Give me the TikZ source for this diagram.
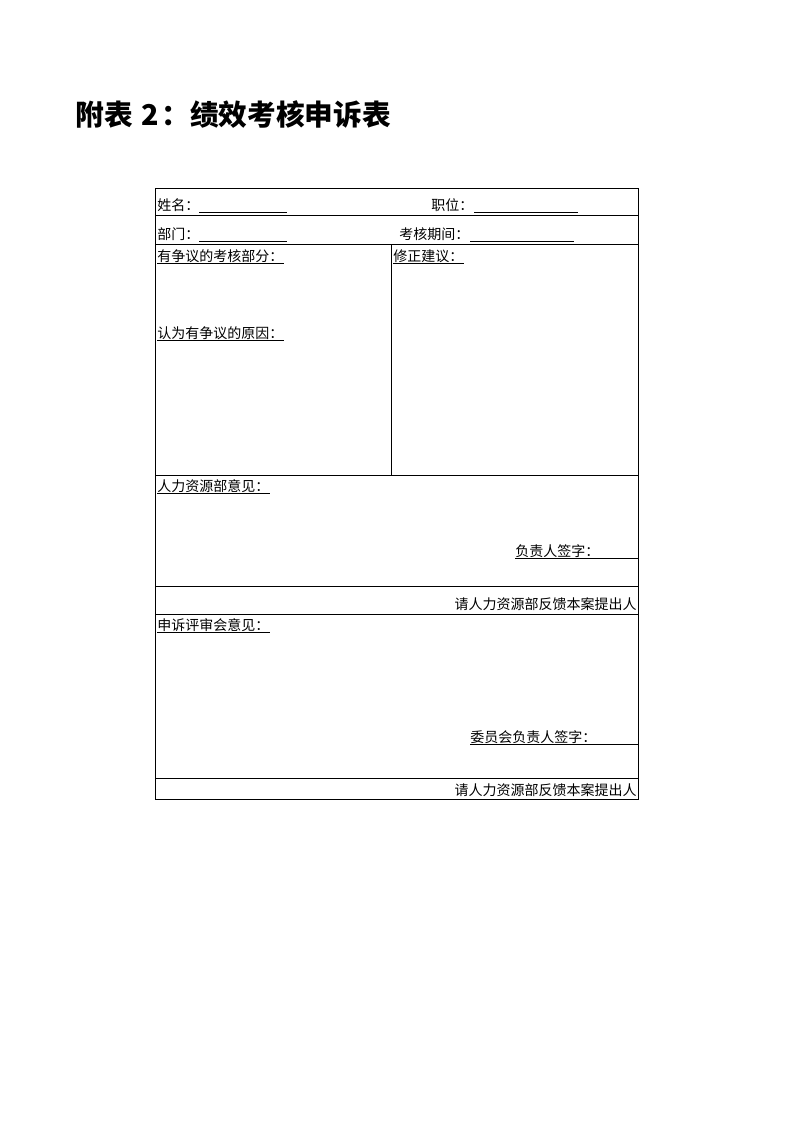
\documentclass[tikz,border=0pt]{standalone}
\usepackage{fontspec}
\setmainfont{Noto Sans CJK SC}
\usetikzlibrary{calc}

\tikzset{
  field/.style={anchor=base west,inner sep=0pt,font=\fontsize{10.5}{12}\selectfont},
  fieldr/.style={field,anchor=base east},
  ul/.style={line width=0.6pt}
}

\begin{document}
\begin{tikzpicture}[x=0.75pt,y=-0.75pt,line width=0.6pt]
        \useasboundingbox (0,0) rectangle (794,1123);
        % title
        \node[anchor=base west,inner sep=0pt,font=\fontsize{21.5}{26}\selectfont\bfseries] (title) at (75,126) {附表\hspace{0.3em}2\hspace{0.1em}：绩效考核申诉表};
        % frame and rules
        \draw (155,188) rectangle (638,799);
        \draw (155,215) -- (638,215);
        \draw (155,244) -- (638,244);
        \draw (391,244) -- (391,475);
        \draw (155,475) -- (638,475);
        \draw (155,586) -- (638,586);
        \draw (155,614) -- (638,614);
        \draw (155,778) -- (638,778);
        % first rows
        \node[field] (name) at (157,210) {姓名：};
        \draw[ul] (199,212) -- (287,212);
        \node[field] (post) at (431,210) {职位：};
        \draw[ul] (474,212) -- (578,212);
        \node[field] (dept) at (157,239) {部门：};
        \draw[ul] (199,241) -- (287,241);
        \node[field] (period) at (399,239) {考核期间：};
        \draw[ul] (470,241) -- (574,241);
        % dispute block
        \node[field] (disputed) at (157,261) {有争议的考核部分：};
        \draw[ul] ([yshift=-1.5pt]disputed.base west) -- ([yshift=-1.5pt]disputed.base east);
        \node[field] (reason) at (157,338) {认为有争议的原因：};
        \draw[ul] ([yshift=-1.5pt]reason.base west) -- ([yshift=-1.5pt]reason.base east);
        \node[field] (revise) at (393,261) {修正建议：};
        \draw[ul] ([yshift=-1.5pt]revise.base west) -- ([yshift=-1.5pt]revise.base east);
        % HR block
        \node[field] (hrview) at (157,491) {人力资源部意见：};
        \draw[ul] ([yshift=-1.5pt]hrview.base west) -- ([yshift=-1.5pt]hrview.base east);
        \node[field] (hrsign) at (515,556) {负责人签字：};
        \draw[ul] ([yshift=-1.5pt]hrsign.base west) -- ($([yshift=-1.5pt]hrsign.base west)+(123,0)$);
        \node[fieldr] (hrback) at (637,609) {请人力资源部反馈本案提出人};
        % panel block
        \node[field] (panelview) at (157,630) {申诉评审会意见：};
        \draw[ul] ([yshift=-1.5pt]panelview.base west) -- ([yshift=-1.5pt]panelview.base east);
        \node[field] (panelsign) at (470,742) {委员会负责人签字：};
        \draw[ul] ([yshift=-1.5pt]panelsign.base west) -- ($([yshift=-1.5pt]panelsign.base west)+(168,0)$);
        \node[fieldr] (panelback) at (637,795) {请人力资源部反馈本案提出人};
    \end{tikzpicture}
\end{document}
